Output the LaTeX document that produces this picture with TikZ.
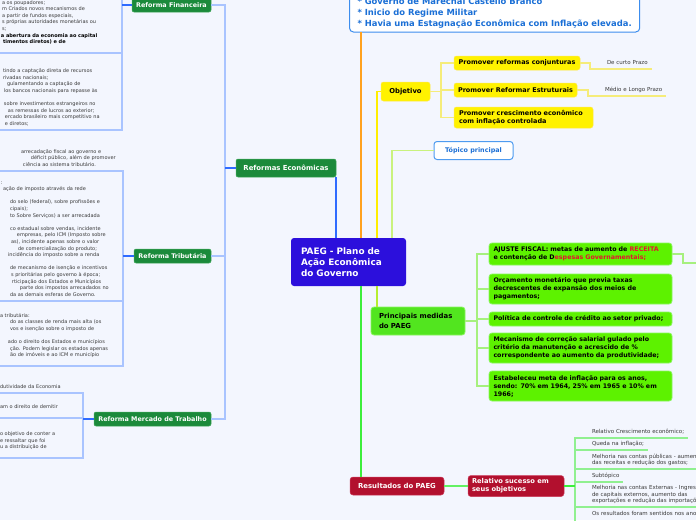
\documentclass[tikz,border=0pt]{standalone}
\usepackage{fontspec}
\setmainfont{DejaVu Sans}
\usetikzlibrary{calc}
\definecolor{bg}{HTML}{F3F6FE}
\definecolor{paegc}{HTML}{2C0FDC}
\definecolor{dgreen}{HTML}{1B8A3B}
\definecolor{dgreenb}{HTML}{3FA85A}
\definecolor{lblue}{HTML}{A9C4FF}
\definecolor{dblue}{HTML}{2F6BFF}
\definecolor{orl}{HTML}{FFA21F}
\definecolor{yline}{HTML}{FFEE00}
\definecolor{ylight}{HTML}{F5EC7A}
\definecolor{yfill}{HTML}{FFF200}
\definecolor{yborder}{HTML}{FFE84A}
\definecolor{tline}{HTML}{C9F27E}
\definecolor{tpb}{HTML}{4E9BF0}
\definecolor{tpt}{HTML}{1C6FD5}
\definecolor{tbb}{HTML}{3C8DEE}
\definecolor{tbt}{HTML}{1A6FD6}
\definecolor{ygline}{HTML}{B6EE30}
\definecolor{pmfill}{HTML}{52E51F}
\definecolor{gfill}{HTML}{5DF200}
\definecolor{gborder}{HTML}{8AF55E}
\definecolor{gline}{HTML}{A6F07E}
\definecolor{grl}{HTML}{3CEE3C}
\definecolor{rsfill}{HTML}{B2102E}
\definecolor{rsborder}{HTML}{CC3A5A}
\definecolor{rline}{HTML}{90F090}
\definecolor{tgray}{HTML}{3A3A3A}
\definecolor{redt}{HTML}{E5142E}
\newcommand\fsl{\fontsize{5}{6.6}\selectfont}
\newcommand\fsr{\fontsize{5.5}{6.3}\selectfont}
\begin{document}
\begin{tikzpicture}[x=1pt,y=-1pt,
  every node/.style={inner sep=0pt,outer sep=0pt},
  dg/.style={fill=dgreen, draw=dgreenb, line width=0.5pt, rounded corners=2pt, text=white,
    font=\bfseries\fontsize{6.4}{8}\selectfont, minimum height=14pt, align=center},
  yb/.style={fill=yfill, draw=yborder, line width=0.5pt, rounded corners=2.5pt, text=black,
    font=\bfseries\fontsize{6.5}{8.8}\selectfont, minimum height=14pt, align=center},
  gb/.style={fill=gfill, draw=gborder, line width=0.8pt, rounded corners=3pt, text=black,
    font=\bfseries\fontsize{6.3}{8}\selectfont, align=left, text width=174pt, inner xsep=4.5pt},
  rb/.style={fill=rsfill, draw=rsborder, line width=0.5pt, rounded corners=3pt, text=white,
    font=\bfseries\fontsize{6.7}{8.3}\selectfont},
  it/.style={inner ysep=2.65pt, align=left, text=tgray, execute at end node=\strut},
  litem/.style={it, anchor=south east, font=\fsl},
  ritem/.style={it, anchor=south west, font=\fsr, execute at begin node={\leftskip=17pt\relax}},
  mainl/.style={line width=1.6pt},
  subl/.style={line width=1.2pt}
]
\useasboundingbox (0,0) rectangle (696,520);
\fill[bg] (0,0) rectangle (696,520);
\clip (0,0) rectangle (696,520);

% ---------- central and top ----------
\node[fill=paegc, rounded corners=3pt, text=white, font=\bfseries\fontsize{8.9}{11}\selectfont,
  align=left, text width=95pt, inner xsep=10pt, minimum height=48pt] (paeg) at (348.5,262)
  {PAEG - Plano de\\Ação Econômica\\do Governo};

\node[draw=tbb, line width=1pt, fill=white, rounded corners=4pt, text=tbt,
  font=\bfseries\fontsize{8.4}{10.7}\selectfont, align=left, inner xsep=8pt, inner ysep=2.7pt,
  anchor=south west, execute at end node=\strut] (tb) at (349.5,32)
  {* Governo de Marechal Castello Branco\\* Inicio do Regime Militar\\* Havia uma Estagnação Econômica com Inflação elevada.};

% ---------- objetivo ----------
\node[yb, minimum width=49pt, minimum height=19pt, font=\bfseries\fontsize{6.8}{8}\selectfont] (obj) at (405.5,91.5) {Objetivo};
\node[yb, minimum width=126pt] (c1) at (517,63) {Promover reformas conjunturas};
\node[yb, minimum width=123pt] (c2) at (515.5,90) {Promover Reformar Estruturais};
\node[yb, align=left, text width=129pt, inner xsep=5pt, minimum height=21pt] (c3) at (523.5,117.5)
  {Promover crescimento econômico\\com inflação controlada};
\node[ritem, text width=62pt] (l1) at (590,69) {De curto Prazo};
\node[ritem, text width=78pt] (l2) at (588,96) {Médio e Longo Prazo};

% ---------- topico ----------
\node[draw=tpb, line width=1pt, fill=white, rounded corners=3pt, text=tpt,
  font=\bfseries\fontsize{6.4}{8}\selectfont, minimum width=79pt, minimum height=18pt] (tp) at (473.5,150.5) {Tópico principal};

% ---------- principais medidas ----------
\node[fill=pmfill, draw=gborder, line width=0.8pt, rounded corners=3pt, text=black,
  font=\bfseries\fontsize{6.9}{9.5}\selectfont, align=left, text width=78pt, inner xsep=8pt,
  minimum height=28pt] (pm) at (418,321) {Principais medidas\\do PAEG};
\node[gb, minimum height=22pt] (g1) at (580.5,254)
  {AJUSTE FISCAL: metas de aumento de \textcolor{redt}{RECEITA}\\e contenção de D\textcolor{redt}{espesas Governamentais;}};
\node[gb, minimum height=30pt] (g2) at (580.5,289)
  {Orçamento monetário que previa taxas\\decrescentes de expansão dos meios de\\pagamentos;};
\node[gb, minimum height=14pt] (g3) at (580.5,319) {Política de controle de crédito ao setor privado;};
\node[gb, minimum height=30pt] (g4) at (580.5,348)
  {Mecanismo de correção salarial gulado pelo\\critério da manutenção e acrescido de \%\\correspondente ao aumento da produtividade;};
\node[gb, minimum height=30pt] (g5) at (580.5,386)
  {Estabeleceu meta de inflação para os anos,\\sendo: 70\% em 1964, 25\% em 1965 e 10\% em\\1966;};
\coordinate (g1out) at (704,263);

% ---------- resultados ----------
\node[rb, minimum width=94pt, minimum height=18pt, font=\bfseries\fontsize{6.9}{8}\selectfont] (rs) at (397,486) {Resultados do PAEG};
\node[rb, align=left, text width=88pt, inner xsep=4pt, minimum height=21pt] (rel) at (516,486)
  {Relativo sucesso em\\seus objetivos};
\node[ritem, text width=113pt] (r1) at (575,438) {Relativo Crescimento econômico;};
\node[ritem, text width=73pt] (r2) at (575,450) {Queda na inflação;};
\node[ritem, text width=140pt] (r3) at (575,469) {Melhoria nas contas públicas - aumento\\das receitas e redução dos gastos;};
\node[ritem, text width=48pt] (r4) at (575,482) {Subtópico};
\node[ritem, text width=140pt] (r5) at (575,507) {Melhoria nas contas Externas - Ingresso\\de capitais externos, aumento das\\exportações e redução das importações};
\node[ritem, text width=140pt] (r6) at (575,526) {Os resultados foram sentidos nos anos\\\mbox{}};

% ---------- reformas ----------
\node[dg, minimum width=100pt, minimum height=18pt, font=\bfseries\fontsize{6.9}{8}\selectfont] (re) at (286,168) {Reformas Econômicas};
\node[dg, minimum width=79pt] (rf) at (171.5,5) {Reforma Financeira};
\node[dg, minimum width=77pt] (rt) at (172.5,256) {Reforma Tributária};
\node[dg, minimum width=117pt] (rm) at (152.5,419) {Reforma Mercado de Trabalho};

\coordinate (fitop) at (122,-12);
\node[litem, text width=122pt] (fi0) at (122,53)
  {\hspace*{2pt}a os poupadores;\\\hspace*{2pt}m Criados novos mecanismos de\\\hspace*{2pt}a partir de fundos especiais,\\\hspace*{2pt}s próprias autoridades monetárias ou\\\hspace*{2pt}s;\\\hspace*{1pt}\textbf{\color{black}a abertura da economia ao capital}\\\hspace*{3pt}\textbf{\color{black}timentos diretos) e de}\\[-2pt]\mbox{}};
\node[litem, text width=122pt] (fi1) at (122,130)
  {\hspace*{3pt}tindo a captação direta de recursos\\\hspace*{3pt}rivadas nacionais;\\\hspace*{7pt}gulamentando a captação de\\\hspace*{4pt}los bancos nacionais para repasse às\\[6.6pt]\hspace*{4pt}sobre investimentos estrangeiros no\\\hspace*{8pt}as remessas de lucros ao exterior;\\\hspace*{5pt}ercado brasileiro mais competitivo na\\\hspace*{5pt}e diretos;};

\node[litem, text width=123pt] (ti1) at (123,171)
  {\hspace*{21pt}arrecadação fiscal ao governo e\\\hspace*{31pt}déficit público, além de promover\\\hspace*{23pt}ciência ao sistema tributário.};
\node[litem, text width=123pt] (ti2) at (123,301)
  {\hspace*{1pt}:\\\hspace*{3pt}ação de imposto através da rede\\[6.6pt]\hspace*{10pt}do selo (federal), sobre profissões e\\\hspace*{10pt}cipais);\\\hspace*{10pt}to Sobre Serviços) a ser arrecadada\\[6.6pt]\hspace*{10pt}co estadual sobre vendas, incidente\\\hspace*{17pt}empresas, pelo ICM (Imposto sobre\\\hspace*{11pt}as), incidente apenas sobre o valor\\\hspace*{18pt}de comercialização do produto;\\\hspace*{8pt}incidência do imposto sobre a renda\\[6.6pt]\hspace*{10pt}de mecanismo de isenção e incentivos\\\hspace*{11pt}s prioritárias pelo governo à época;\\\hspace*{12pt}rticipação dos Estados e Municípios\\\hspace*{20pt}parte dos impostos arrecadados no\\\hspace*{10pt}da as demais esferas de Governo.};
\node[litem, text width=123pt] (ti3) at (123,366)
  {\hspace*{0pt}a tributária:\\\hspace*{10pt}do as classes de renda mais alta (os\\\hspace*{10pt}vos e isenção sobre o imposto de\\[6.6pt]\hspace*{8pt}ado o direito dos Estados e municípios\\\hspace*{10pt}ção. Podem legislar os estados apenas\\\hspace*{10pt}ão de imóveis e ao ICM e município\\[-2pt]\mbox{}};

\node[litem, text width=83pt] (mi1) at (83,393) {dutividade da Economia};
\node[litem, text width=83pt] (mi2) at (83,418) {am o direito de demitir\\[-2pt]\mbox{}};
\node[litem, text width=83pt] (mi3) at (83,458) {o objetivo de conter a\\e ressaltar que foi\\u a distribuição de\\[-2pt]\mbox{}};

% ---------- connectors from the centre ----------
\coordinate (po) at ([xshift=70pt]paeg.north west);
\coordinate (py) at ([xshift=86pt]paeg.north west);
\coordinate (pt) at ([xshift=101pt]paeg.north west);
\coordinate (pr) at ([xshift=70pt]paeg.south west);
\coordinate (pp) at ([xshift=86pt]paeg.south west);
\draw[dblue, mainl] (re.south east) -- (re.south east |- paeg.north);
\draw[orl, mainl] (po) -- (po |- tb.south);
\draw[yline, mainl] (py) |- (obj.west);
\draw[tline, line width=1.4pt] (pt) |- (tp.west);
\draw[grl, mainl] (pr) -- (pr |- rs.north);
\draw[ygline, mainl] (pp) -- (pp |- pm.north);

% ---------- objetivo connectors ----------
\foreach \c in {c1,c2,c3} \draw[ylight, subl] (obj.east) -- ++(11,0) |- (\c.west);
\draw[ylight, subl] (c1.east) -- ++(10,0) |- (l1.south west) -- (l1.south east);
\draw[ylight, subl] (c2.east) -- ++(11,0) |- (l2.south west) -- (l2.south east);

% ---------- medidas connectors ----------
\foreach \g in {g1,g2,g3,g4,g5} \draw[gline, subl] (pm.east) -- ++(12,0) |- (\g.west);
\draw[gline, subl] (g1.east) -- ++(11,0) |- (g1out);

% ---------- resultados connectors ----------
\draw[grl!80, line width=1.3pt] (rs.east) -- (rel.west);
\foreach \r in {r1,r2,r3,r4,r5,r6} \draw[rline, subl] (rel.east) -- ++(11,0) |- (\r.south west) -- (\r.south east);
\draw[grl, mainl] (rel.east) -- ++(11,0);

% ---------- reformas connectors ----------
\foreach \k in {rf,rt,rm} \draw[lblue, line width=1.4pt] (re.west) -- ++(-11,0) |- (\k.east);
\draw[dblue, subl] (re.west) -- ++(-11,0);

\foreach \k in {fi0,fi1} \draw[lblue, line width=1.4pt] (rf.west) -- ++(-10,0) |- (\k.south east) -- (\k.south west);
\draw[lblue, line width=1.4pt] (rf.west) -- ++(-10,0) |- (fitop);
\draw[dblue, line width=1.1pt] (rf.west) -- ++(-10,0);

\foreach \k in {ti1,ti2,ti3} \draw[lblue, line width=1.4pt] (rt.west) -- ++(-11,0) |- (\k.south east) -- (\k.south west);
\draw[dblue, line width=1.1pt] (rt.west) -- ++(-11,0);

\foreach \k in {mi1,mi2,mi3} \draw[lblue, line width=1.4pt] (rm.west) -- ++(-11,0) |- (\k.south east) -- (\k.south west);
\draw[dblue, line width=1.1pt] (rm.west) -- ++(-11,0);
\end{tikzpicture}
\end{document}
